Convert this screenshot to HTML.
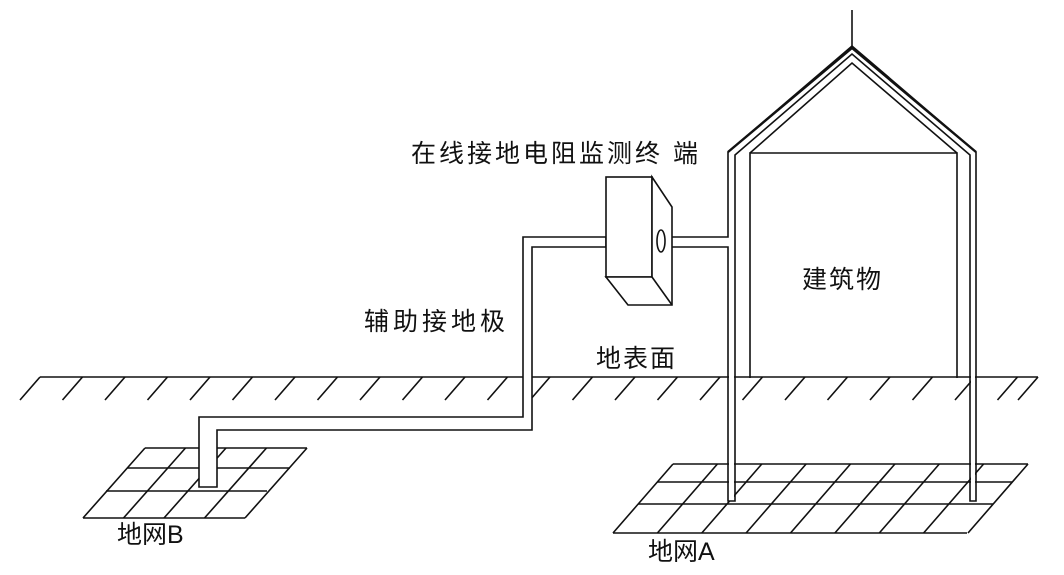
<!DOCTYPE html>
<html><head><meta charset="utf-8"><style>
html,body{margin:0;padding:0;background:#fff;}
svg{display:block;}
text{font-family:"Liberation Sans","Noto Sans CJK SC",sans-serif;fill:#111;}
</style></head><body>
<svg width="1064" height="575" viewBox="0 0 1064 575" xmlns="http://www.w3.org/2000/svg">
<g stroke="#111" stroke-width="1.6" fill="none">
<!-- ground -->
<line x1="40" y1="377" x2="1038" y2="377"/>
<path d="M40 377 l-20 23 M82.5 377 l-20 23 M125 377 l-20 23 M167.5 377 l-20 23 M210 377 l-20 23 M252.5 377 l-20 23 M295 377 l-20 23 M337.5 377 l-20 23 M380 377 l-20 23 M422.5 377 l-20 23 M465 377 l-20 23 M507.5 377 l-20 23 M550 377 l-20 23 M592.5 377 l-20 23 M635 377 l-20 23 M677.5 377 l-20 23 M720 377 l-20 23 M762.5 377 l-20 23 M805 377 l-20 23 M847.5 377 l-20 23 M890 377 l-20 23 M932.5 377 l-20 23 M975 377 l-20 23 M1017.5 377 l-20 23 M1038 377 l-20 23"/>
<!-- grid B -->
<path d="M145 448 H307 M127 468 H290 M106 491 H267 M83 518 H245"/>
<path d="M145 448 L83 518 M185.5 448 L123.5 518 M226 448 L164 518 M266.5 448 L204.5 518 M307 448 L245 518"/>
<!-- grid A -->
<path d="M673 464 H1028 M657 482 H1012 M638 504 H993 M613 533 H967"/>
<path d="M673 464 L613 533 M717.4 464 L657.4 533 M761.8 464 L701.8 533 M806.1 464 L746.1 533 M850.5 464 L790.5 533 M894.9 464 L834.9 533 M939.3 464 L879.3 533 M983.6 464 L923.6 533 M1028 464 L968 533"/>
<!-- building -->
<line x1="852" y1="10" x2="852" y2="46"/>
<path d="M750 378 V153 H957 V378"/>
<path d="M750 153 L852 63 L957 153"/>
</g>
<!-- white pipe interiors -->
<g fill="#fff" stroke="none">
<rect x="729" y="152" width="5" height="349"/>
<rect x="971" y="152" width="4" height="349"/>
<rect x="672" y="238" width="60" height="8"/>
</g>
<g stroke="#111" stroke-width="1.6" fill="#fff">
<path d="M606 237 H523 V417 H199 V487 H217 V430 H532 V247 H606 Z"/>
<path d="M672 237 H728 V152 L852 46 L976 152 V501 H970 V155 L852 54 L735 155 V501 H728 V247 H672" fill="none"/>
<path d="M728 152 L852 48 L976 152" stroke-width="2.4" fill="none"/>
<!-- box -->
<rect x="606" y="177" width="46" height="100"/>
<path d="M652 177 L672 207 V305 H628 L606 277 H652 Z"/>
<path d="M652 277 L672 305"/>
<ellipse cx="661" cy="241" rx="4" ry="11"/>
</g>
<g font-size="25">
<text x="411" y="162" letter-spacing="3">在线接地电阻监测终 端</text>
<text x="802" y="288" letter-spacing="2">建筑物</text>
<text x="364" y="330" letter-spacing="4">辅助接地极</text>
<text x="596" y="367" letter-spacing="2">地表面</text>
<text x="117" y="543">地网B</text>
<text x="648" y="560">地网A</text>
</g>
</svg>
</body></html>
